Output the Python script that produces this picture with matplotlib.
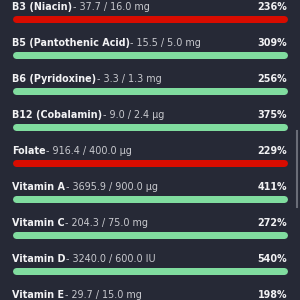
import matplotlib
matplotlib.use("Agg")
import matplotlib.pyplot as plt
from matplotlib.lines import Line2D

names = ["B3 (Niacin)", "B5 (Pantothenic Acid)", "B6 (Pyridoxine)", "B12 (Cobalamin)",
         "Folate", "Vitamin A", "Vitamin C", "Vitamin D", "Vitamin E"]
amounts = [37.7, 15.5, 3.3, 9.0, 916.4, 3695.9, 204.3, 3240.0, 29.7]
targets = [16.0, 5.0, 1.3, 2.4, 400.0, 900.0, 75.0, 600.0, 15.0]
units = ["mg", "mg", "mg", "µg", "µg", "µg", "mg", "IU", "mg"]
percents = [236, 309, 256, 375, 229, 411, 272, 540, 198]
over_limit = [True, False, False, False, True, False, False, False, False]

BG = "#262936"
GREEN = "#80dc9f"
RED = "#d80c00"
WHITE = "#f2f2f4"
GREY = "#c9cacf"

W = H = 300
fig = plt.figure(figsize=(3, 3), dpi=100, facecolor=BG)
left_px, right_px = 12.5, 287
row_h = 36.0
first_center = 18.5
ax = fig.add_axes([left_px / W, 0, (right_px - left_px) / W, 1])
ax.set_facecolor(BG)
ax.set_xlim(0, 100)
top = -first_center / row_h
bottom = (H - first_center) / row_h
ax.set_ylim(bottom, top)
ax.axis("off")

bar_px = 7.0
lw_pt = bar_px * 72 / 100
half_x = (bar_px / 2) / (right_px - left_px) * 100
FS = 6.95

for i, (n, a, t, u, p, o) in enumerate(zip(names, amounts, targets, units, percents, over_limit)):
    frac = min(p, 100)
    col = RED if o else GREEN
    ax.add_line(Line2D([half_x, frac - half_x], [i, i], lw=lw_pt, color=col,
                       solid_capstyle="round", clip_on=False))
    yb = i - 8.3 / row_h
    t1 = ax.text(0, yb, n, fontsize=FS, fontfamily="DejaVu Sans", fontweight="bold",
                 color=WHITE, va="baseline", ha="left")
    ax.annotate(f"- {a:.1f} / {t:.1f} {u}", xy=(1, 0), xycoords=t1,
                fontsize=FS, fontfamily="DejaVu Sans", color=GREY, va="bottom", ha="left")
    ax.text(100, yb, f"{p}%", fontsize=FS, fontfamily="DejaVu Sans", fontweight="bold",
            color=WHITE, va="baseline", ha="right")

# scrollbar
fig.add_artist(Line2D([296.5 / W, 296.5 / W], [1 - 131 / H, 1 - 207 / H],
                      transform=fig.transFigure, color="#6a6d78", lw=1.5))

fig.savefig("out.png", dpi=100, facecolor=BG)
